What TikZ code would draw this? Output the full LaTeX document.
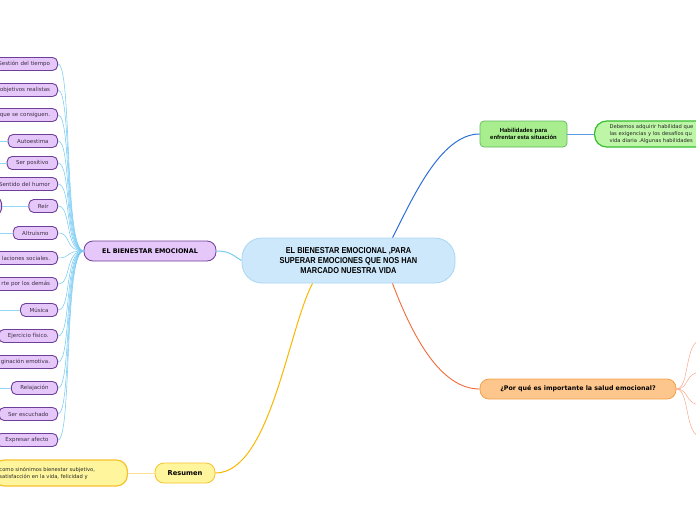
\documentclass[tikz,border=0pt]{standalone}
\usepackage{fontspec}
\setmainfont{DejaVu Sans}
\newfontfamily\centralfont{Liberation Sans}[FakeStretch=0.86]
\newfontfamily\arialfont{Liberation Sans}
\definecolor{leaffill}{HTML}{E6C7F9}
\definecolor{leafborder}{HTML}{6E3F99}
\definecolor{leaftext}{HTML}{3A2E45}
\definecolor{cenfill}{HTML}{CDE8FB}
\definecolor{cenborder}{HTML}{A9D6F5}
\definecolor{bluelink}{HTML}{7ACBF2}
\definecolor{hablink}{HTML}{2D6FD6}
\definecolor{habclink}{HTML}{5E9BE2}
\definecolor{porlinkc}{HTML}{F26A3A}
\definecolor{porchild}{HTML}{F8A88C}
\definecolor{habfill}{HTML}{A8EE8E}
\definecolor{habborder}{HTML}{5DB95A}
\definecolor{habcfill}{HTML}{BDF6A6}
\definecolor{habcborder}{HTML}{36BE2E}
\definecolor{resfill}{HTML}{FFF59C}
\definecolor{resborder}{HTML}{F7C12C}
\definecolor{reslink}{HTML}{F9B700}
\definecolor{porfill}{HTML}{FDC68C}
\definecolor{porborder}{HTML}{F5A04B}
\tikzset{
  leaf/.style={draw=leafborder, fill=leaffill, rounded corners=5pt, line width=0.9pt,
    font=\fontsize{5.5}{6.5}\selectfont, text=leaftext, minimum height=13pt,
    inner ysep=1pt, inner xsep=9pt, anchor=east},
  cutleaf/.style={leaf, text width=80pt, align=right, inner xsep=7.5pt},
  leaflink/.style={draw=bluelink, line width=0.55pt},
  extlink/.style={draw=bluelink!80, line width=0.6pt},
  porlink/.style={draw=porchild, line width=0.5pt}
}
\begin{document}
\begin{tikzpicture}[x=1pt,y=-1pt]
\useasboundingbox (0,0) rectangle (696,520);

% central
\node[draw=cenborder, fill=cenfill, rounded corners=20pt, line width=0.8pt,
  minimum width=213pt, minimum height=45pt, align=center,
  font=\centralfont\bfseries\fontsize{8.6}{10}\selectfont] (cen) at (348.5,260.5)
  {EL BIENESTAR EMOCIONAL ,PARA\\SUPERAR EMOCIONES QUE NOS HAN\\MARCADO NUESTRA VIDA};

% left main
\node[draw=leafborder, fill=leaffill, rounded corners=9pt, line width=0.8pt,
  minimum width=132pt, minimum height=20pt, font=\bfseries\fontsize{6.4}{7}\selectfont]
  (bien) at (150,251) {EL BIENESTAR EMOCIONAL};

% leaves
\node[cutleaf] (l1) at (58,64) {Gestión del tiempo};
\node[cutleaf] (l2) at (58,90) {objetivos realistas};
\node[cutleaf] (l3) at (58,115) {que se consiguen.};
\node[leaf] (l4) at (58,141) {Autoestima};
\node[leaf] (l5) at (58,163) {Ser positivo};
\node[cutleaf] (l6) at (58,184) {Sentido del humor};
\node[leaf] (l7) at (58,206) {Reír};
\node[leaf] (l8) at (58,233) {Altruismo};
\node[cutleaf] (l9) at (58,258) {laciones sociales.};
\node[cutleaf] (l10) at (58,284) {rte por los demás};
\node[leaf] (l11) at (58,310) {Música};
\node[leaf] (l12) at (58,336) {Ejercicio físico.};
\node[cutleaf] (l13) at (58,362) {ginación emotiva.};
\node[leaf] (l14) at (58,388) {Relajación};
\node[leaf] (l15) at (58,414) {Ser escuchado};
\node[leaf] (l16) at (58,440) {Expresar afecto};

% partial child of Reír
\node[leaf, minimum width=30pt, minimum height=16pt] (reirc) at (2,206) {};

\foreach \n/\y in {l1/64,l2/90,l3/115,l4/141,l5/163,l6/184,l7/206,l8/233,l9/258,l10/284,l11/310,l12/336,l13/362,l14/388,l15/414,l16/440}{
  \draw[leaflink] (bien.west) .. controls (64,251) and (72,\y) .. (\n.east);
}

% left extensions
\coordinate (e4) at (-6,141);
\coordinate (e5) at (-6,163);
\coordinate (e8) at (-6,233);
\coordinate (e11) at (-6,310);
\coordinate (e14) at (-6,388);
\draw[extlink] (l4.west) -- (e4);
\draw[extlink] (l5.west) -- (e5);
\draw[extlink] (l7.west) -- (reirc.east);
\draw[extlink] (l8.west) -- (e8);
\draw[extlink] (l11.west) -- (e11);
\draw[extlink] (l14.west) -- (e14);

\draw[draw=bluelink, line width=1pt] (bien.east) .. controls (230,251) and (232,255) .. (cen.west);

% Habilidades
\node[draw=habborder, fill=habfill, rounded corners=4pt, line width=0.7pt,
  minimum width=87pt, minimum height=26pt, align=center,
  font=\arialfont\bfseries\fontsize{5.9}{7}\selectfont] (hab) at (523.5,134)
  {Habilidades para\\enfrentar esta situación};
\node[draw=habcborder, fill=habcfill, rounded corners=12pt, line width=1.2pt,
  anchor=west, minimum height=26pt, text width=120pt, align=left, inner xsep=15pt,
  font=\fontsize{5.2}{7}\selectfont, text=black!85] (habc) at (594,134)
  {Debemos adquirir habilidad que\\las exigencias y los desafíos qu\\vida diaria .Algunas habilidades};
\draw[draw=habclink, line width=0.9pt] (hab.east) -- (habc.west);
\draw[draw=hablink, line width=1pt] ([xshift=44pt]cen.north) .. controls (412,200) and (440,134) .. (hab.west);

% Por qué
\node[draw=porborder, fill=porfill, rounded corners=9pt, line width=0.8pt,
  minimum width=196pt, minimum height=20pt,
  font=\bfseries\fontsize{6.3}{7}\selectfont] (por) at (578,389)
  {¿Por qué es importante la salud emocional?};
\draw[draw=porlinkc, line width=0.9pt] ([xshift=44pt]cen.south) .. controls (412,335) and (440,389) .. (por.west);
\coordinate (p1) at (702,340);
\coordinate (p2) at (702,372);
\coordinate (p3) at (702,405);
\coordinate (p4) at (702,437);
\foreach \p/\y in {p1/340,p2/372,p3/405,p4/437}{
  \draw[porlink] (por.east) .. controls (690,389) and (684,\y) .. (\p);
}

% Resumen
\node[draw=resborder, fill=resfill, rounded corners=9pt, line width=0.8pt,
  minimum width=60pt, minimum height=20pt,
  font=\bfseries\fontsize{6.7}{7}\selectfont] (res) at (185,473) {Resumen};
\node[draw=resborder, fill=resfill, rounded corners=11pt, line width=1.2pt,
  anchor=east, minimum height=26pt, text width=122pt, align=left, inner xsep=6pt,
  font=\fontsize{5.2}{7}\selectfont, text=black!85] (resc) at (128,473)
  {como sinónimos bienestar subjetivo,\\satisfacción en la vida, felicidad y};
\draw[draw=resborder!50, line width=0.9pt] (res.west) -- (resc.east);
\draw[draw=reslink, line width=1pt] ([xshift=-36pt]cen.south) .. controls (288,330) and (270,473) .. (res.east);
\end{tikzpicture}
\end{document}
